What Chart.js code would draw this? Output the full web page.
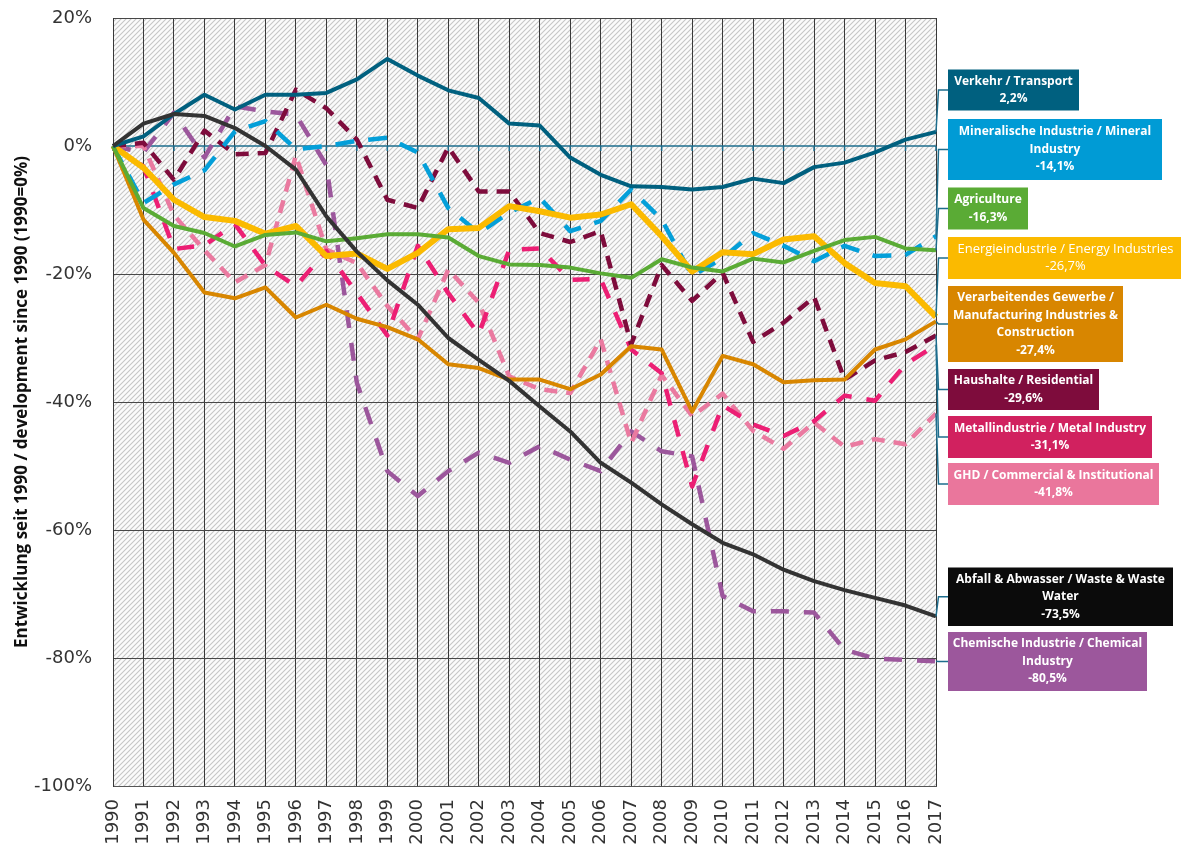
<!DOCTYPE html>
<html>
<head>
<meta charset="utf-8">
<script src="https://cdn.jsdelivr.net/npm/chart.js@4.4.1/dist/chart.umd.min.js"></script>
<style>
  html, body { margin: 0; padding: 0; background: #fff; }
  #wrap { width: 1181px; height: 848px; position: relative; }
</style>
</head>
<body>
<div id="wrap"><canvas id="chart"></canvas></div>
<script>
const years = ['1990','1991','1992','1993','1994','1995','1996','1997','1998','1999','2000','2001','2002','2003',
  '2004','2005','2006','2007','2008','2009','2010','2011','2012','2013','2014','2015','2016','2017'];

// Entwicklung seit 1990 in %
const transport = [0, 1.5, 5.0, 8.0, 5.7, 8.0, 8.0, 8.3, 10.4, 13.6, 11.0, 8.7, 7.5, 3.5, 3.2, -1.8, -4.5, -6.3, -6.4, -6.8, -6.4, -5.1, -5.8, -3.3, -2.6, -1.0, 1.0, 2.2];
const mineral = [0, -8.9, -6.0, -3.8, 2.3, 3.9, -0.5, 0.0, 0.8, 1.3, -1.0, -9.7, -13.6, -10.4, -8.1, -13.3, -11.7, -6.8, -11.5, -20.3, -17.5, -13.6, -15.6, -18.0, -15.6, -17.2, -17.0, -14.1];
const agriculture = [0, -9.7, -12.5, -13.6, -15.7, -13.9, -13.5, -14.9, -14.4, -13.8, -13.8, -14.3, -17.2, -18.5, -18.6, -19.0, -19.9, -20.6, -17.7, -19.0, -19.6, -17.6, -18.2, -16.4, -14.7, -14.2, -16.0, -16.3];
const energy = [0, -3.4, -8.4, -11.1, -11.7, -13.7, -12.5, -17.2, -16.8, -19.2, -16.7, -13.0, -12.8, -9.4, -10.2, -11.2, -10.7, -9.1, -14.1, -19.6, -16.6, -16.9, -14.6, -14.1, -18.3, -21.4, -21.9, -26.7];
const manufacturing = [0, -11.5, -16.7, -22.9, -23.8, -22.1, -26.8, -24.8, -27.0, -28.3, -30.2, -34.1, -34.7, -36.5, -36.5, -38.0, -35.7, -31.3, -31.8, -41.5, -32.8, -34.1, -36.9, -36.6, -36.5, -31.8, -30.2, -27.4];
const residential = [0, 0.5, -5.3, 2.4, -1.3, -1.1, 8.8, 5.9, 1.0, -8.4, -9.7, -0.2, -7.1, -7.1, -13.6, -15.0, -13.3, -31.0, -18.6, -24.2, -19.8, -30.6, -27.6, -23.6, -36.5, -33.5, -32.2, -29.6];
const metal = [0, -3.2, -16.1, -15.5, -12.2, -18.7, -21.9, -16.4, -23.0, -29.6, -15.6, -23.0, -29.4, -16.2, -16.0, -20.9, -20.8, -31.8, -35.5, -53.2, -40.5, -43.5, -45.3, -43.0, -39.0, -39.8, -34.1, -31.1];
const ghd = [0, 0.0, -10.8, -16.3, -21.3, -18.6, -1.5, -16.2, -18.3, -25.0, -30.2, -19.3, -24.5, -36.0, -38.0, -38.6, -30.2, -46.4, -35.8, -42.2, -38.7, -44.5, -47.3, -43.2, -47.0, -45.8, -46.6, -41.8];
const waste = [0, 3.5, 5.0, 4.7, 2.8, 0.0, -3.7, -11.0, -16.5, -21.0, -24.8, -30.0, -33.4, -36.7, -40.7, -44.6, -49.5, -52.6, -56.0, -59.1, -62.0, -63.8, -66.2, -68.0, -69.4, -70.6, -71.8, -73.5];
const chemical = [0, -1.0, 5.2, -1.8, 6.2, 5.4, 4.9, -3.0, -37.0, -50.8, -54.7, -50.8, -47.9, -49.5, -46.9, -49.0, -50.8, -44.6, -47.7, -48.5, -70.3, -72.7, -72.7, -72.9, -78.7, -80.1, -80.3, -80.5];

const labelTexts = [
  ['Verkehr / Transport', '2,2%'],
  ['Mineralische Industrie / Mineral', 'Industry', '-14,1%'],
  ['Agriculture', '-16,3%'],
  ['Energieindustrie / Energy Industries', '-26,7%'],
  ['Verarbeitendes Gewerbe /', 'Manufacturing Industries &', 'Construction', '-27,4%'],
  ['Haushalte / Residential', '-29,6%'],
  ['Metallindustrie / Metal Industry', '-31,1%'],
  ['GHD / Commercial & Institutional', '-41,8%'],
  ['Abfall & Abwasser / Waste & Waste', 'Water', '-73,5%'],
  ['Chemische Industrie / Chemical', 'Industry', '-80,5%'],
];

// label boxes, same order as labelTexts: series, box top, height, width, fill, bold
const boxes = [
  { series: transport, top: 69.5, h: 41, w: 131, fill: '#00607f', bold: true },
  { series: mineral, top: 119, h: 61, w: 214, fill: '#009bd5', bold: true },
  { series: agriculture, top: 187.5, h: 42, w: 80, fill: '#5aab35', bold: true },
  { series: energy, top: 237, h: 42, w: 235, fill: '#fbba00', bold: false },
  { series: manufacturing, top: 286, h: 76, w: 175, fill: '#d88600', bold: true },
  { series: residential, top: 369, h: 41, w: 151, fill: '#7e0c3c', bold: true },
  { series: metal, top: 416, h: 42, w: 204, fill: '#d1215f', bold: true },
  { series: ghd, top: 463, h: 42, w: 211, fill: '#ea769c', bold: true },
  { series: waste, top: 567.5, h: 58.5, w: 225, fill: '#0b0b0b', bold: true },
  { series: chemical, top: 632, h: 59, w: 199, fill: '#9c579c', bold: true },
];

const hatchPlugin = {
  id: 'hatch',
  beforeDraw(chart) {
    const { ctx, chartArea: a } = chart;
    const tile = document.createElement('canvas');
    tile.width = 5;
    tile.height = 5;
    const t = tile.getContext('2d');
    t.fillStyle = '#fbfbfb';
    t.fillRect(0, 0, 5, 5);
    t.strokeStyle = '#c6c6c6';
    t.lineWidth = 1.1;
    t.beginPath();
    t.moveTo(-1, 6); t.lineTo(6, -1);
    t.moveTo(-1, 1); t.lineTo(1, -1);
    t.moveTo(4, 6); t.lineTo(6, 4);
    t.stroke();
    ctx.save();
    ctx.fillStyle = ctx.createPattern(tile, 'repeat');
    ctx.fillRect(a.left, a.top, a.right - a.left, a.bottom - a.top);
    ctx.restore();
  },
};

const zeroAxisPlugin = {
  id: 'zeroAxis',
  beforeDatasetsDraw(chart) {
    const { ctx, chartArea: a, scales } = chart;
    const y0 = scales.y.getPixelForValue(0);
    ctx.save();
    ctx.strokeStyle = '#1d6d8d';
    ctx.lineWidth = 1.5;
    ctx.beginPath();
    ctx.moveTo(a.left, y0);
    ctx.lineTo(a.right, y0);
    years.forEach((_, i) => {
      const px = scales.x.getPixelForValue(i);
      ctx.moveTo(px, y0);
      ctx.lineTo(px, y0 + 5);
    });
    ctx.stroke();
    ctx.restore();
  },
};

const labelPlugin = {
  id: 'endLabels',
  afterDraw(chart) {
    const { ctx, scales } = chart;
    const last = years.length - 1;
    const boxLeft = 948;
    ctx.save();
    // leader lines
    ctx.strokeStyle = '#1d6d8d';
    ctx.lineWidth = 1.5;
    boxes.forEach((b) => {
      const ex = scales.x.getPixelForValue(last);
      const ey = scales.y.getPixelForValue(b.series[last]);
      const mid = b.top + b.h / 2;
      ctx.beginPath();
      ctx.moveTo(ex, ey);
      ctx.lineTo(ex + 2.5, mid);
      ctx.lineTo(boxLeft, mid);
      ctx.stroke();
    });
    // boxes
    boxes.forEach((b, i) => {
      ctx.fillStyle = b.fill;
      ctx.fillRect(boxLeft, b.top, b.w, b.h);
      const lines = labelTexts[i];
      const lh = 17.5;
      ctx.fillStyle = '#ffffff';
      ctx.textAlign = 'center';
      ctx.textBaseline = 'middle';
      ctx.font = b.bold ? 'bold 12px "Open Sans"' : '13px "Open Sans"';
      const cx = boxLeft + b.w / 2;
      const start = b.top + b.h / 2 - (lines.length - 1) * lh / 2;
      lines.forEach((s, k) => ctx.fillText(s, cx, start + k * lh));
    });
    ctx.restore();
  },
};

function lineSet(label, data, color, width, dash) {
  return {
    label,
    data,
    borderColor: color,
    backgroundColor: color,
    borderWidth: width,
    borderDash: dash || [],
    borderCapStyle: 'butt',
    borderJoinStyle: 'round',
    pointRadius: 0,
    tension: 0,
    fill: false,
  };
}

Chart.defaults.font.family = '"DejaVu Sans", sans-serif';
Chart.defaults.color = '#3a3a3a';

new Chart(document.getElementById('chart'), {
  type: 'line',
  data: {
    labels: years,
    datasets: [
      lineSet('Abfall & Abwasser / Waste & Waste Water', waste, '#333333', 4),
      lineSet('Verkehr / Transport', transport, '#00607f', 4),
      lineSet('Agriculture', agriculture, '#5aab35', 4),
      lineSet('Verarbeitendes Gewerbe / Manufacturing Industries & Construction', manufacturing, '#d88600', 4),
      lineSet('Energieindustrie / Energy Industries', energy, '#fbba00', 6),
      lineSet('Mineralische Industrie / Mineral Industry', mineral, '#049fd9', 4.5, [19, 14]),
      lineSet('Haushalte / Residential', residential, '#7e0c3c', 4.5, [13, 9]),
      lineSet('Metallindustrie / Metal Industry', metal, '#ec1f74', 4.5, [17, 15]),
      lineSet('GHD / Commercial & Institutional', ghd, '#ea7aa0', 4.5, [13, 9]),
      lineSet('Chemische Industrie / Chemical Industry', chemical, '#9c579c', 4.5, [18, 15]),
    ],
  },
  options: {
    responsive: true,
    maintainAspectRatio: false,
    animation: false,
    layout: { padding: { top: 18, right: 245, bottom: 0, left: 0 } },
    plugins: { legend: { display: false }, tooltip: { enabled: false } },
    scales: {
      x: {
        grid: { color: '#383838', lineWidth: 1, drawTicks: true, tickLength: 13, tickColor: 'rgba(0,0,0,0)' },
        border: { color: '#555555', width: 1 },
        ticks: { autoSkip: false, maxRotation: 90, minRotation: 90, padding: 0, color: '#333333', font: { size: 18 } },
        afterFit(s) { s.height = 62; },
      },
      y: {
        min: -100,
        max: 20,
        grid: {
          drawTicks: true,
          tickLength: 21,
          tickColor: 'rgba(0,0,0,0)',
          lineWidth: 1,
          color: (c) => (c.tick && c.tick.value === 0 ? 'rgba(0,0,0,0)' : '#474747'),
        },
        border: { color: '#383838', width: 1 },
        ticks: { stepSize: 20, padding: 0, color: '#333333', font: { size: 18 }, callback: (v) => v + '%' },
        title: {
          display: true,
          text: 'Entwicklung seit 1990 / development since 1990 (1990=0%)',
          color: '#111111',
          font: { family: '"Open Sans", sans-serif', size: 17, weight: 'bold' },
          padding: { top: 12, bottom: 0 },
        },
        afterFit(s) { s.width = 113; },
      },
    },
  },
  plugins: [hatchPlugin, zeroAxisPlugin, labelPlugin],
});
</script>
</body>
</html>
